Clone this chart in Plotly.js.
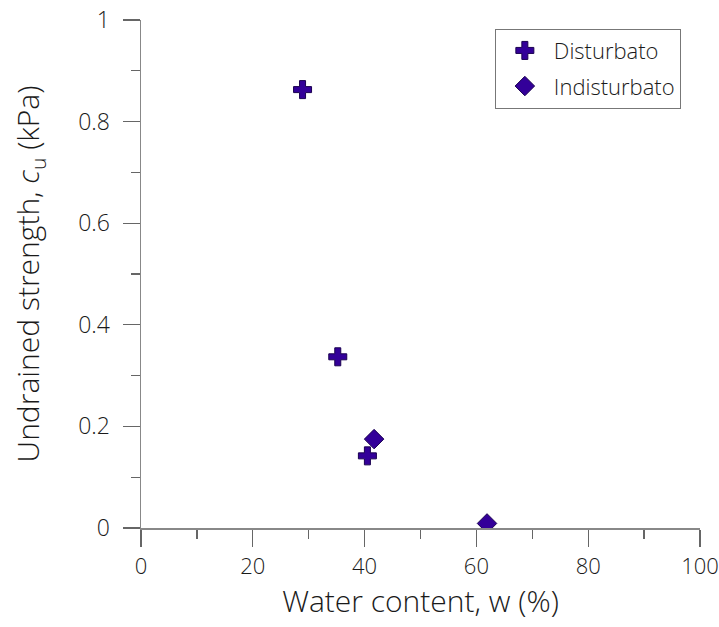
<!DOCTYPE html>
<html><head><meta charset="utf-8">
<script src="https://cdn.plot.ly/plotly-3.0.1.min.js"></script>
<style>body{margin:0;background:#fff}#c{width:719px;height:627px}</style>
</head><body><div id="c"></div>
<script>
const seriesNames = ["Disturbato", "Indisturbato"];
const disturbatoW = [28.9, 35.2, 40.5];
const disturbatoCu = [0.863, 0.337, 0.142];
const indisturbatoW = [41.7, 61.9];
const indisturbatoCu = [0.175, 0.009];
const xTicks = [0, 20, 40, 60, 80, 100];
const yTicks = [0, 0.2, 0.4, 0.6, 0.8, 1];
const yTickText = ["0", "0.2", "0.4", "0.6", "0.8", "1"];

const fnt = {family: "Open Sans, sans-serif", color: "#1a1a1a", weight: 300};
const mColor = "#330099";
const traces = [
  {x: disturbatoW, y: disturbatoCu, name: seriesNames[0], legendgroup: "a", type: "scatter", mode: "markers",
   marker: {symbol: "cross", size: 15, color: mColor, line: {color: "#1a0050", width: 1}}},
  {x: indisturbatoW, y: indisturbatoCu, name: seriesNames[1], legendgroup: "b", type: "scatter", mode: "markers",
   marker: {symbol: "diamond", size: 15, color: mColor, line: {color: "#1a0050", width: 1}}}
];
const axCommon = {showgrid: false, zeroline: false, showline: true, linecolor: "#888", linewidth: 1.5,
  ticks: "outside", ticklen: 17, tickcolor: "#666", tickwidth: 1.3, ticklabeloverflow: "allow"};
const layout = {
  width: 719, height: 627, paper_bgcolor: "#fff", plot_bgcolor: "#fff",
  margin: {l: 141, r: 19, t: 20, b: 99},
  font: fnt,
  showlegend: true,
  legend: {x: 0.633, y: 0.983, xanchor: "left", yanchor: "top", bordercolor: "#777", borderwidth: 1,
    bgcolor: "#fff", font: Object.assign({size: 22}, fnt), itemwidth: 48, traceorder: "grouped", tracegroupgap: 4},
  xaxis: Object.assign({}, axCommon, {range: [0, 100], tickvals: xTicks, ticklabelstandoff: 1,
    tickfont: Object.assign({size: 22}, fnt),
    minor: {dtick: 10, ticklen: 9, ticks: "outside", tickcolor: "#666", tickwidth: 1.3},
    title: {text: "Water content, w (%)", font: Object.assign({size: 30}, fnt), standoff: 10}}),
  yaxis: Object.assign({}, axCommon, {range: [0, 1], tickvals: yTicks, ticktext: yTickText, ticklabelstandoff: 8,
    tickfont: Object.assign({size: 23}, fnt),
    minor: {dtick: 0.1, ticklen: 9, ticks: "outside", tickcolor: "#666", tickwidth: 1.3},
    title: {text: "Undrained strength, <i>c</i><sub>u</sub> (kPa)", font: Object.assign({size: 30}, fnt), standoff: 29}})
};
Plotly.newPlot("c", traces, layout, {displayModeBar: false, staticPlot: true});
</script></body></html>
